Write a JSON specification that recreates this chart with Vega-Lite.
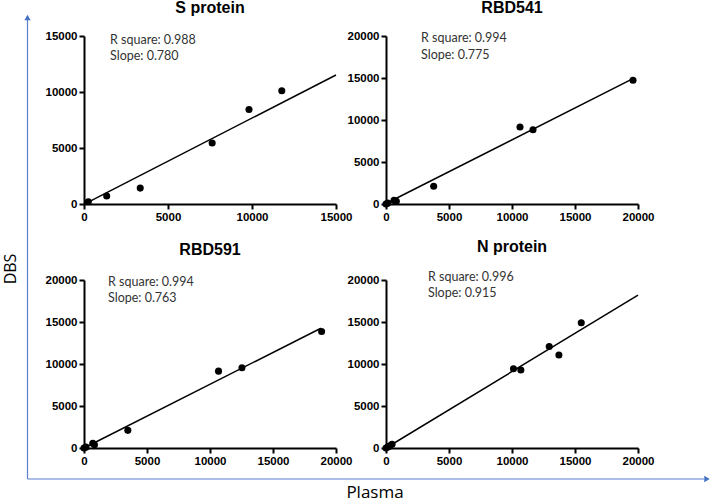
{
  "$schema": "https://vega.github.io/schema/vega-lite/v6.json",
  "padding": 0,
  "background": "white",
  "config": {
    "view": {"stroke": null},
    "axis": {"grid": false, "domainColor": "black", "domainWidth": 2, "tickColor": "black", "tickWidth": 2, "tickSize": 5, "labelFont": "Liberation Sans", "labelFontWeight": "bold", "labelFontSize": 11.5, "labelColor": "black", "labelPadding": 2, "labelFlush": false, "labelOverlap": false},
    "title": {"font": "Liberation Sans", "fontSize": 16, "fontWeight": "bold", "color": "black", "anchor": "middle", "offset": 14}
  },
  "datasets": {
    "points": [
      {"panel": "S protein", "plasma": 256, "dbs": 205},
      {"panel": "S protein", "plasma": 1351, "dbs": 714},
      {"panel": "S protein", "plasma": 3347, "dbs": 1420},
      {"panel": "S protein", "plasma": 7629, "dbs": 5444},
      {"panel": "S protein", "plasma": 9821, "dbs": 8432},
      {"panel": "S protein", "plasma": 11773, "dbs": 10118},
      {"panel": "RBD541", "plasma": 0, "dbs": 0},
      {"panel": "RBD541", "plasma": 130, "dbs": 100},
      {"panel": "RBD541", "plasma": 640, "dbs": 430},
      {"panel": "RBD541", "plasma": 820, "dbs": 330},
      {"panel": "RBD541", "plasma": 3783, "dbs": 2103},
      {"panel": "RBD541", "plasma": 10635, "dbs": 9167},
      {"panel": "RBD541", "plasma": 11667, "dbs": 8849},
      {"panel": "RBD541", "plasma": 19603, "dbs": 14722},
      {"panel": "RBD591", "plasma": 0, "dbs": 0},
      {"panel": "RBD591", "plasma": 150, "dbs": 100},
      {"panel": "RBD591", "plasma": 700, "dbs": 560},
      {"panel": "RBD591", "plasma": 830, "dbs": 380},
      {"panel": "RBD591", "plasma": 3479, "dbs": 2099},
      {"panel": "RBD591", "plasma": 10677, "dbs": 9149},
      {"panel": "RBD591", "plasma": 12537, "dbs": 9545},
      {"panel": "RBD591", "plasma": 18858, "dbs": 13861},
      {"panel": "N protein", "plasma": 0, "dbs": 0},
      {"panel": "N protein", "plasma": 150, "dbs": 120},
      {"panel": "N protein", "plasma": 300, "dbs": 250},
      {"panel": "N protein", "plasma": 480, "dbs": 450},
      {"panel": "N protein", "plasma": 10119, "dbs": 9440},
      {"panel": "N protein", "plasma": 10702, "dbs": 9280},
      {"panel": "N protein", "plasma": 12954, "dbs": 12080},
      {"panel": "N protein", "plasma": 13722, "dbs": 11080},
      {"panel": "N protein", "plasma": 15497, "dbs": 14920}
    ],
    "fits": [
      {"panel": "S protein", "plasma": 80, "dbs": 40},
      {"panel": "S protein", "plasma": 15000, "dbs": 11520},
      {"panel": "RBD541", "plasma": 0, "dbs": 60},
      {"panel": "RBD541", "plasma": 19600, "dbs": 14920},
      {"panel": "RBD591", "plasma": 0, "dbs": 0},
      {"panel": "RBD591", "plasma": 18800, "dbs": 14260},
      {"panel": "N protein", "plasma": 0, "dbs": 0},
      {"panel": "N protein", "plasma": 20000, "dbs": 18200}
    ],
    "notes": [
      {"panel": "S protein", "plasma": 1548, "dbs": 14643, "label": "R square: 0.988"},
      {"panel": "S protein", "plasma": 1548, "dbs": 13214, "label": "Slope: 0.780"},
      {"panel": "RBD541", "plasma": 2778, "dbs": 19762, "label": "R square: 0.994"},
      {"panel": "RBD541", "plasma": 2778, "dbs": 17738, "label": "Slope: 0.775"},
      {"panel": "RBD591", "plasma": 1905, "dbs": 19762, "label": "R square: 0.994"},
      {"panel": "RBD591", "plasma": 1905, "dbs": 17857, "label": "Slope: 0.763"},
      {"panel": "N protein", "plasma": 3333, "dbs": 20357, "label": "R square: 0.996"},
      {"panel": "N protein", "plasma": 3333, "dbs": 18452, "label": "Slope: 0.915"}
    ]
  },
  "bounds": "flush",
  "columns": 3,
  "spacing": {"row": 76, "column": 50},
  "concat": [
    {
      "width": 34,
      "height": 168,
      "data": {"values": [{}]},
      "layer": [
        {
          "mark": {"type": "rule", "color": "#5b7fcf", "strokeWidth": 1.2},
          "encoding": {
            "x": {"datum": 27.5, "type": "quantitative", "scale": {"domain": [0, 34], "nice": false, "zero": false}, "axis": null},
            "y": {"datum": -275, "type": "quantitative", "scale": {"domain": [0, 168], "nice": false, "zero": false}, "axis": null},
            "y2": {"datum": 184}
          }
        },
        {
          "mark": {"type": "point", "shape": "triangle-up", "filled": true, "size": 40, "color": "#4472c4", "opacity": 1},
          "encoding": {
            "x": {"datum": 27.5, "type": "quantitative"},
            "y": {"datum": 186.5, "type": "quantitative"}
          }
        },
        {
          "mark": {"type": "text", "text": "DBS", "angle": 270, "font": "Open Sans", "fontSize": 16, "color": "black", "align": "center", "baseline": "middle"},
          "encoding": {
            "x": {"datum": 11, "type": "quantitative"},
            "y": {"datum": -65, "type": "quantitative"}
          }
        }
      ]
    },
    {
      "width": 252, "height": 168,
      "title": {"text": "S protein", "offset": 14},
      "encoding": {
        "x": {"field": "plasma", "type": "quantitative", "title": null, "scale": {"domain": [0, 15000], "nice": false}, "axis": {"values": [0, 5000, 10000, 15000], "format": "d"}},
        "y": {"field": "dbs", "type": "quantitative", "title": null, "scale": {"domain": [0, 15000], "nice": false}, "axis": {"values": [0, 5000, 10000, 15000], "format": "d"}}
      },
      "layer": [
        {"data": {"name": "fits"}, "transform": [{"filter": "datum.panel === 'S protein'"}], "mark": {"type": "line", "color": "black", "strokeWidth": 1.5}},
        {"data": {"name": "points"}, "transform": [{"filter": "datum.panel === 'S protein'"}], "mark": {"type": "circle", "size": 50, "color": "black", "opacity": 1}},
        {"data": {"name": "notes"}, "transform": [{"filter": "datum.panel === 'S protein'"}], "mark": {"type": "text", "align": "left", "baseline": "middle", "font": "Lato", "fontSize": 12.5, "color": "#333333"}, "encoding": {"text": {"field": "label"}}}
      ]
    },
    {
      "width": 252, "height": 168,
      "title": {"text": "RBD541", "offset": 14},
      "encoding": {
        "x": {"field": "plasma", "type": "quantitative", "title": null, "scale": {"domain": [0, 20000], "nice": false}, "axis": {"values": [0, 5000, 10000, 15000, 20000], "format": "d"}},
        "y": {"field": "dbs", "type": "quantitative", "title": null, "scale": {"domain": [0, 20000], "nice": false}, "axis": {"values": [0, 5000, 10000, 15000, 20000], "format": "d"}}
      },
      "layer": [
        {"data": {"name": "fits"}, "transform": [{"filter": "datum.panel === 'RBD541'"}], "mark": {"type": "line", "color": "black", "strokeWidth": 1.5}},
        {"data": {"name": "points"}, "transform": [{"filter": "datum.panel === 'RBD541'"}], "mark": {"type": "circle", "size": 50, "color": "black", "opacity": 1}},
        {"data": {"name": "notes"}, "transform": [{"filter": "datum.panel === 'RBD541'"}], "mark": {"type": "text", "align": "left", "baseline": "middle", "font": "Lato", "fontSize": 12.5, "color": "#333333"}, "encoding": {"text": {"field": "label"}}}
      ]
    },
    {
      "width": 34,
      "height": 168,
      "data": {"values": [{}]},
      "layer": [
        {
          "mark": {"type": "rule", "color": "#5b7fcf", "strokeWidth": 1.2},
          "encoding": {
            "x": {"datum": 27.5, "type": "quantitative", "scale": {"domain": [0, 34], "nice": false, "zero": false}, "axis": null},
            "x2": {"datum": 704},
            "y": {"datum": -31, "type": "quantitative", "scale": {"domain": [0, 168], "nice": false, "zero": false}, "axis": null}
          }
        },
        {
          "mark": {"type": "point", "shape": "triangle-right", "filled": true, "size": 40, "color": "#4472c4", "opacity": 1},
          "encoding": {
            "x": {"datum": 707, "type": "quantitative"},
            "y": {"datum": -31, "type": "quantitative"}
          }
        },
        {
          "mark": {"type": "text", "text": "Plasma", "font": "Open Sans", "fontSize": 17, "color": "black", "align": "center", "baseline": "middle"},
          "encoding": {
            "x": {"datum": 375, "type": "quantitative"},
            "y": {"datum": -45, "type": "quantitative"}
          }
        }
      ]
    },
    {
      "width": 252, "height": 168,
      "title": {"text": "RBD591", "offset": 16},
      "encoding": {
        "x": {"field": "plasma", "type": "quantitative", "title": null, "scale": {"domain": [0, 20000], "nice": false}, "axis": {"values": [0, 5000, 10000, 15000, 20000], "format": "d"}},
        "y": {"field": "dbs", "type": "quantitative", "title": null, "scale": {"domain": [0, 20000], "nice": false}, "axis": {"values": [0, 5000, 10000, 15000, 20000], "format": "d"}}
      },
      "layer": [
        {"data": {"name": "fits"}, "transform": [{"filter": "datum.panel === 'RBD591'"}], "mark": {"type": "line", "color": "black", "strokeWidth": 1.5}},
        {"data": {"name": "points"}, "transform": [{"filter": "datum.panel === 'RBD591'"}], "mark": {"type": "circle", "size": 50, "color": "black", "opacity": 1}},
        {"data": {"name": "notes"}, "transform": [{"filter": "datum.panel === 'RBD591'"}], "mark": {"type": "text", "align": "left", "baseline": "middle", "font": "Lato", "fontSize": 12.5, "color": "#333333"}, "encoding": {"text": {"field": "label"}}}
      ]
    },
    {
      "width": 252, "height": 168,
      "title": {"text": "N protein", "offset": 16},
      "encoding": {
        "x": {"field": "plasma", "type": "quantitative", "title": null, "scale": {"domain": [0, 20000], "nice": false}, "axis": {"values": [0, 5000, 10000, 15000, 20000], "format": "d"}},
        "y": {"field": "dbs", "type": "quantitative", "title": null, "scale": {"domain": [0, 20000], "nice": false}, "axis": {"values": [0, 5000, 10000, 15000, 20000], "format": "d"}}
      },
      "layer": [
        {"data": {"name": "fits"}, "transform": [{"filter": "datum.panel === 'N protein'"}], "mark": {"type": "line", "color": "black", "strokeWidth": 1.5}},
        {"data": {"name": "points"}, "transform": [{"filter": "datum.panel === 'N protein'"}], "mark": {"type": "circle", "size": 50, "color": "black", "opacity": 1}},
        {"data": {"name": "notes"}, "transform": [{"filter": "datum.panel === 'N protein'"}], "mark": {"type": "text", "align": "left", "baseline": "middle", "font": "Lato", "fontSize": 12.5, "color": "#333333"}, "encoding": {"text": {"field": "label"}}}
      ]
    }
  ]
}
